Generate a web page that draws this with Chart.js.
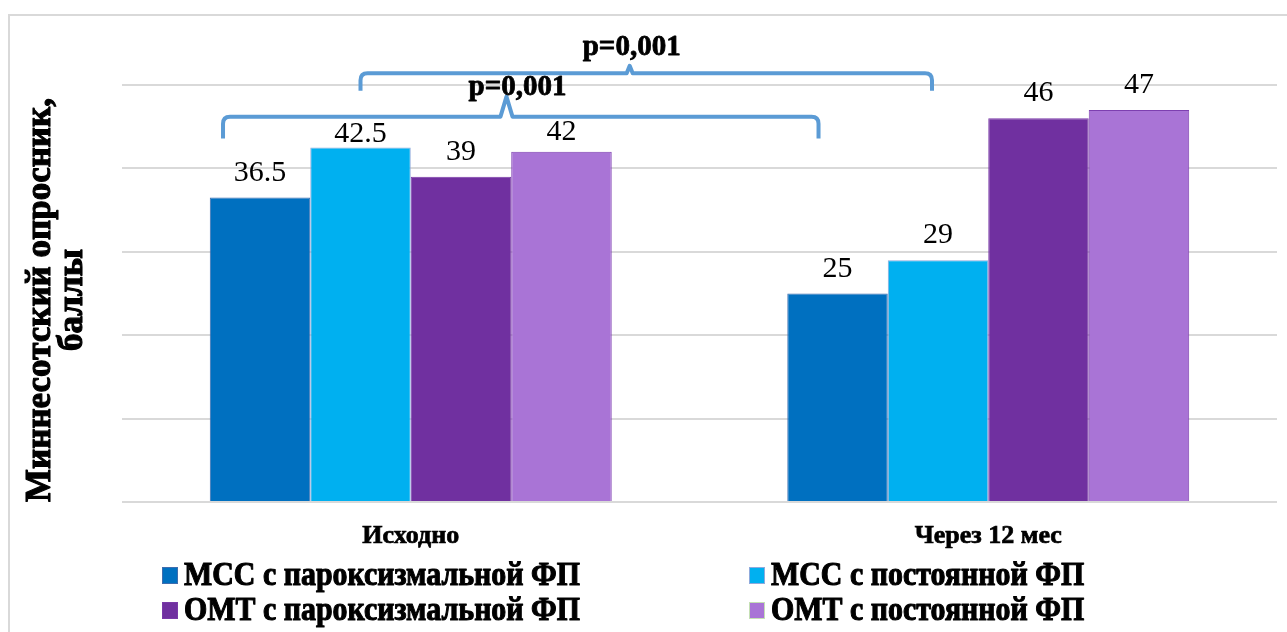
<!DOCTYPE html>
<html lang="ru">
<head>
<meta charset="utf-8">
<title>Миннесотский опросник</title>
<script src="https://cdn.jsdelivr.net/npm/chart.js@4.4.1/dist/chart.umd.min.js"></script>
<style>
  html, body { margin: 0; padding: 0; background: #ffffff; }
  #wrap { position: relative; width: 1287px; height: 632px; }
  canvas { display: block; }
</style>
</head>
<body>
<div id="wrap"><canvas id="chart" width="1287" height="632"></canvas></div>
<script>
// Categories (time points)
const categories = ['Исходно', 'Через 12 мес'];

// Series names
const seriesNames = [
  'МСС с пароксизмальной ФП',
  'МСС с постоянной ФП',
  'ОМТ с пароксизмальной ФП',
  'ОМТ с постоянной ФП'
];

// Scores per series, one value per category
const mssParox = [36.5, 25];
const mssPerm  = [42.5, 29];
const omtParox = [39, 46];
const omtPerm  = [42, 47];

// Y axis range
const yMin = 0, yMax = 50, yStep = 10;

// Axis title lines
const yTitleLines = ['Миннесотский опросник,', 'баллы'];

// Significance bracket labels
const bracketLabels = ['p=0,001', 'p=0,001'];

const FONT = '"Liberation Serif", "Times New Roman", serif';

const styles = [
  { fill: '#0070C0', border: '#3F6DAE', legendBorder: '#3F6DAE' },
  { fill: '#00B0F0', border: '#8FAADC', legendBorder: '#8FAADC' },
  { fill: '#7030A0', border: '#7A3AA8', legendBorder: '#7A3AA8' },
  { fill: '#A974D6', border: '#7D3FB0', legendBorder: '#C5E0B4' }
];

const seriesValues = [mssParox, mssPerm, omtParox, omtPerm];

// Bracket geometry: dataset/category of each end, pixel offsets from bar centre,
// heights in axis units
const bracketDefs = [
  { from: [0, 0], to: [0, 1], fromDx: -37, toDx: -19,
    yLine: 46.2, yEnd: 43.6, yTip: 48.6, tip: 0.476, tipHalf: 6, textDx: 11, yText: 48.8 },
  { from: [1, 0], to: [1, 1], fromDx: 0, toDx: -6,
    yLine: 51.4, yEnd: 49.3, yTip: 52.3, tip: 0.471, tipHalf: 3, textDx: 2, yText: 53.6 }
];

// Distance of value labels above the bar top (px), with a few labels tucked lower
const labelGap = 17;
const labelGapOverride = { '1-0': 6, '3-0': 12 };

// Heavy bold text: fill plus a thin stroke in the same colour
function heavyText(ctx, text, x, y, stroke) {
  ctx.fillText(text, x, y);
  ctx.lineWidth = stroke;
  ctx.strokeStyle = ctx.fillStyle;
  ctx.lineJoin = 'round';
  ctx.strokeText(text, x, y);
}

const frame = {
  id: 'frame',
  beforeDraw(chart) {
    const ctx = chart.ctx;
    ctx.save();
    ctx.fillStyle = '#ffffff';
    ctx.fillRect(0, 0, chart.width, chart.height);
    ctx.strokeStyle = '#d9d9d9';
    ctx.lineWidth = 2;
    ctx.strokeRect(9, 15, chart.width + 20, chart.height + 20);
    ctx.restore();
  }
};

const valueLabels = {
  id: 'valueLabels',
  afterDatasetsDraw(chart) {
    const ctx = chart.ctx;
    ctx.save();
    ctx.font = '30px ' + FONT;
    ctx.fillStyle = '#000000';
    ctx.textAlign = 'center';
    ctx.textBaseline = 'alphabetic';
    chart.data.datasets.forEach((ds, di) => {
      chart.getDatasetMeta(di).data.forEach((bar, ci) => {
        const key = di + '-' + ci;
        const gap = labelGapOverride[key] !== undefined ? labelGapOverride[key] : labelGap;
        ctx.fillText(String(ds.data[ci]), bar.x, bar.y - gap);
      });
    });
    ctx.restore();
  }
};

const brackets = {
  id: 'brackets',
  afterDatasetsDraw(chart) {
    const ctx = chart.ctx;
    const y = chart.scales.y;
    ctx.save();
    bracketDefs.forEach((b, i) => {
      const a = chart.getDatasetMeta(b.from[0]).data[b.from[1]];
      const c = chart.getDatasetMeta(b.to[0]).data[b.to[1]];
      const x1 = a.x + b.fromDx, x2 = c.x + b.toDx;
      const yl = y.getPixelForValue(b.yLine);
      const ye = y.getPixelForValue(b.yEnd);
      const yt = y.getPixelForValue(b.yTip);
      const xm = x1 + (x2 - x1) * b.tip;
      const r = 7;
      ctx.strokeStyle = '#5B9BD5';
      ctx.lineWidth = 4;
      ctx.lineJoin = 'round';
      ctx.lineCap = 'butt';
      ctx.beginPath();
      ctx.moveTo(x1, ye);
      ctx.lineTo(x1, yl + r);
      ctx.quadraticCurveTo(x1, yl, x1 + r, yl);
      ctx.lineTo(xm - b.tipHalf, yl);
      ctx.lineTo(xm, yt);
      ctx.lineTo(xm + b.tipHalf, yl);
      ctx.lineTo(x2 - r, yl);
      ctx.quadraticCurveTo(x2, yl, x2, yl + r);
      ctx.lineTo(x2, ye);
      ctx.stroke();

      ctx.font = 'bold 29px ' + FONT;
      ctx.fillStyle = '#000000';
      ctx.textAlign = 'center';
      ctx.textBaseline = 'alphabetic';
      heavyText(ctx, bracketLabels[i], xm + b.textDx, y.getPixelForValue(b.yText), 0.8);
    });
    ctx.restore();
  }
};

const yTitle = {
  id: 'yTitle',
  afterDraw(chart) {
    const ctx = chart.ctx;
    ctx.save();
    ctx.font = 'bold 35px ' + FONT;
    ctx.fillStyle = '#000000';
    ctx.textAlign = 'center';
    ctx.textBaseline = 'middle';
    ctx.translate(0, 300);
    ctx.rotate(-Math.PI / 2);
    heavyText(ctx, yTitleLines[0], 0, 41, 1.1);
    heavyText(ctx, yTitleLines[1], 0, 73, 1.1);
    ctx.restore();
  }
};

const gridLegend = {
  id: 'gridLegend',
  afterDraw(chart) {
    const ctx = chart.ctx;
    const colX = [162, 749];
    const rowY = [575, 610];
    const squeeze = 0.88;
    ctx.save();
    ctx.font = 'bold 34px ' + FONT;
    ctx.textAlign = 'left';
    ctx.textBaseline = 'middle';
    chart.data.datasets.forEach((ds, i) => {
      const x = colX[i % 2], yc = rowY[Math.floor(i / 2)];
      ctx.fillStyle = styles[i].fill;
      ctx.fillRect(x, yc - 8, 16, 17);
      ctx.strokeStyle = styles[i].legendBorder;
      ctx.lineWidth = 1;
      ctx.strokeRect(x + 0.5, yc - 7.5, 15, 16);
      ctx.save();
      ctx.translate(x + 22, yc + 1);
      ctx.scale(squeeze, 1);
      ctx.fillStyle = '#000000';
      heavyText(ctx, ds.label, 0, 0, 1.1);
      ctx.restore();
    });
    ctx.restore();
  }
};

new Chart(document.getElementById('chart'), {
  type: 'bar',
  data: {
    labels: categories,
    datasets: seriesNames.map((name, i) => ({
      label: name,
      data: seriesValues[i],
      backgroundColor: styles[i].fill,
      borderColor: styles[i].border,
      borderWidth: 1
    }))
  },
  options: {
    responsive: false,
    animation: false,
    events: [],
    layout: { padding: { left: 122, right: 10, top: 85, bottom: 80 } },
    datasets: { bar: { categoryPercentage: 0.696, barPercentage: 1.0 } },
    plugins: {
      legend: { display: false },
      tooltip: { enabled: false },
      title: { display: false }
    },
    scales: {
      x: {
        grid: { display: false, drawTicks: false },
        border: { display: false },
        ticks: {
          color: '#000000',
          textStrokeColor: '#000000',
          textStrokeWidth: 0.7,
          font: { family: FONT, size: 26, weight: 'bold' },
          padding: 19,
          maxRotation: 0
        },
        afterFit(scale) { scale.height = 50; }
      },
      y: {
        min: yMin,
        max: yMax,
        ticks: { display: false, stepSize: yStep },
        grid: { color: '#d9d9d9', lineWidth: 2, drawTicks: false },
        border: { display: false },
        afterFit(scale) { scale.width = 0; }
      }
    }
  },
  plugins: [frame, valueLabels, brackets, yTitle, gridLegend]
});
</script>
</body>
</html>
